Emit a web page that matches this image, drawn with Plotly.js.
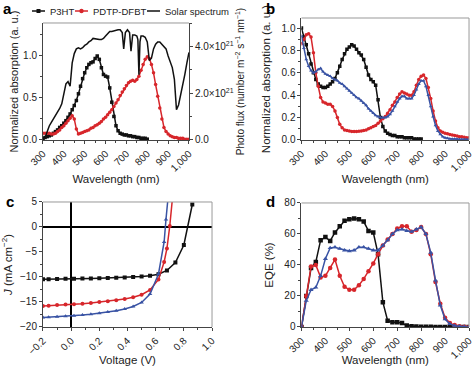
<!DOCTYPE html>
<html><head><meta charset="utf-8">
<script src="https://cdn.plot.ly/plotly-3.0.1.min.js"></script>
<style>html,body{margin:0;padding:0;background:#fff}#chart{width:474px;height:366px}</style>
</head><body><div id="chart"></div>
<script>
// ---------- Panel a ----------
const wlA_P3HT = [300,310,320,330,340,350,360,370,380,390,400,410,420,430,440,450,460,470,480,490,500,510,520,530,540,550,560,570,580,590,600,610,620,630,640,650,660,670,680,690,700,710,720,730,740,750,760,770,780,790,800];
const absA_P3HT = [0.02,0.03,0.04,0.05,0.06,0.08,0.10,0.12,0.15,0.17,0.20,0.23,0.27,0.31,0.36,0.41,0.47,0.55,0.64,0.73,0.80,0.86,0.90,0.92,0.93,0.97,1.00,0.96,0.86,0.78,0.76,0.75,0.62,0.45,0.28,0.17,0.11,0.08,0.07,0.06,0.06,0.05,0.05,0.04,0.04,0.03,0.03,0.02,0.02,0.02,0.01];
const wlA_PDTP = [300,310,320,330,340,350,360,370,380,390,400,410,420,430,440,450,460,470,480,490,500,510,520,530,540,550,560,570,580,590,600,610,620,630,640,650,660,670,680,690,700,710,720,730,740,750,760,770,780,790,800,810,820,830,840,850,860,870,880,890,900,910,920,930,940,950,960,970,980,990,1000];
const absA_PDTP = [0.08,0.08,0.08,0.08,0.07,0.07,0.08,0.10,0.12,0.15,0.17,0.20,0.23,0.26,0.29,0.25,0.13,0.07,0.08,0.09,0.10,0.11,0.12,0.14,0.15,0.17,0.18,0.20,0.22,0.25,0.27,0.30,0.33,0.36,0.40,0.44,0.48,0.53,0.57,0.61,0.65,0.68,0.70,0.71,0.70,0.72,0.76,0.83,0.90,0.96,0.99,0.97,0.90,0.80,0.66,0.52,0.38,0.25,0.15,0.10,0.07,0.05,0.04,0.03,0.03,0.02,0.02,0.02,0.01,0.01,0.01];
const wlSolar = [300,310,320,330,340,350,360,370,380,390,400,410,420,430,440,450,460,470,480,490,500,510,520,530,540,550,560,570,580,590,600,610,620,630,640,650,660,670,680,687,695,705,715,722,730,740,750,755,760,765,770,780,790,800,810,820,830,840,850,860,870,880,890,900,910,920,930,940,950,960,970,980,990,1000];
// photon flux in units of 10^21 m^-2 s^-1 nm^-1
const solarFlux21 = [0.0,0.1,0.35,0.6,0.75,0.9,1.0,1.15,1.35,1.55,1.95,2.4,2.5,2.3,3.3,3.7,3.9,3.95,3.9,3.95,4.05,4.1,4.2,4.25,4.35,4.33,4.3,4.3,4.3,4.35,4.45,4.55,4.65,4.65,4.68,4.7,4.72,4.72,4.6,3.9,4.6,4.72,4.6,3.8,4.5,4.5,4.45,4.3,2.8,4.2,4.45,4.45,4.4,4.2,3.4,3.5,3.9,4.1,4.2,4.2,4.1,4.0,3.9,3.6,3.3,3.1,2.6,1.3,1.5,1.9,2.3,2.8,3.3,3.75];
const fluxTickVals = [0,2,4];
const fluxTickText = ['0.0','2.0×10<sup>21</sup>','4.0×10<sup>21</sup>'];
const legendNames = ['P3HT', 'PDTP-DFBT', 'Solar spectrum'];

// ---------- Panel b ----------
const wlB_P3HT = wlA_P3HT;
const absB_P3HT = [1.0,0.92,0.85,0.77,0.68,0.60,0.54,0.50,0.48,0.47,0.47,0.48,0.50,0.52,0.55,0.60,0.66,0.72,0.77,0.81,0.83,0.85,0.84,0.81,0.78,0.76,0.72,0.65,0.58,0.54,0.52,0.49,0.36,0.20,0.12,0.08,0.06,0.05,0.04,0.04,0.03,0.03,0.03,0.02,0.02,0.02,0.02,0.01,0.01,0.01,0.01];
const wlB = wlA_PDTP;
const absB_PDTP = [0.86,0.90,0.94,0.95,0.92,0.78,0.60,0.48,0.38,0.34,0.33,0.32,0.32,0.30,0.26,0.20,0.14,0.11,0.09,0.085,0.08,0.075,0.075,0.075,0.078,0.08,0.085,0.09,0.10,0.11,0.12,0.13,0.15,0.17,0.19,0.21,0.24,0.27,0.31,0.34,0.38,0.41,0.43,0.42,0.41,0.40,0.40,0.43,0.49,0.54,0.57,0.58,0.55,0.47,0.37,0.26,0.17,0.11,0.08,0.07,0.06,0.055,0.05,0.045,0.04,0.035,0.03,0.03,0.025,0.02,0.02];
const absB_Blend = [0.93,0.82,0.72,0.66,0.62,0.60,0.61,0.63,0.64,0.61,0.59,0.58,0.57,0.55,0.54,0.53,0.51,0.50,0.48,0.46,0.44,0.42,0.40,0.38,0.37,0.35,0.33,0.31,0.28,0.26,0.24,0.22,0.21,0.20,0.20,0.20,0.21,0.23,0.26,0.30,0.34,0.37,0.39,0.39,0.37,0.37,0.37,0.40,0.45,0.50,0.53,0.53,0.48,0.40,0.30,0.21,0.13,0.08,0.05,0.03,0.02,0.015,0.01,0.01,0.01,0.008,0.005,0.005,0.005,0.005,0.005];

// ---------- Panel c ----------
const vBlack = [-0.2,-0.16,-0.1,-0.04,0.02,0.08,0.14,0.2,0.26,0.32,0.38,0.44,0.5,0.56,0.62,0.68,0.74,0.8,0.86];
const jBlack = [-10.45,-10.45,-10.4,-10.35,-10.35,-10.3,-10.3,-10.25,-10.2,-10.15,-10.1,-10.0,-9.9,-9.75,-9.45,-8.7,-7.1,-3.6,4.5];
const vRed = [-0.2,-0.16,-0.1,-0.04,0.02,0.08,0.14,0.2,0.26,0.32,0.38,0.44,0.5,0.56,0.62,0.66,0.68,0.70,0.72];
const jRed = [-15.8,-15.75,-15.6,-15.5,-15.45,-15.35,-15.2,-15.0,-14.85,-14.65,-14.4,-14.05,-13.55,-12.6,-10.5,-7.0,-4.3,0.2,6.0];
const vBlue = [-0.2,-0.16,-0.1,-0.04,0.02,0.08,0.14,0.2,0.26,0.32,0.38,0.44,0.5,0.56,0.62,0.66,0.673,0.69];
const jBlue = [-18.1,-18.05,-17.95,-17.85,-17.75,-17.6,-17.45,-17.25,-17.0,-16.75,-16.4,-15.9,-15.1,-13.4,-9.4,-3.0,1.5,6.5];

// ---------- Panel d ----------
const wlD = [300,320,340,360,380,400,420,440,460,480,500,520,540,560,580,600,620,640,660,680,700,720,740,760,780,800,820,840,860,880,900,920,940,960,980,1000];
const eqeBlack = [0,20,38,42,56,58,55.5,61,65,68.5,69.5,70,69.5,68,62,61,47,16,4,3,3,2.5,1,0.5,0.3,0.2,0.1,0.1,0,0,0,0,0,0,0,0];
const eqeRed = [0,20,39,40,32,33,38,43.5,33,26,24,24,27,31,36,41,47,52.5,56.5,60,63.5,65,65,61.5,62.5,64.5,60,47,29,15,6,2.5,1.2,0.5,0.2,0];
const eqeBlue = [0,17,24,25.5,33,44,51,51.5,50.5,49.5,49,49.5,51.5,51.5,50.5,49.5,49.5,52.5,56,60,62.5,63,62,61.5,63,64.5,60,48,30,14,5,2,0.8,0.3,0.1,0];

const BLACK = '#111111', RED = '#d7262b', BLUE = '#3953a4';
const FONT = 'Liberation Sans, Arial, sans-serif';
const TXT = '#222222';
const W = 474, H = 366;
const px = v => v / W, py = v => 1 - v / H;

function tr(x, y, xa, ya, color, symbol, name, msize) {
  const t = {x: x, y: y, xaxis: xa, yaxis: ya, type: 'scatter', mode: symbol ? 'lines+markers' : 'lines',
    name: name, showlegend: false, line: {color: color, width: 1.5}};
  if (symbol) t.marker = {symbol: symbol, size: msize || 3.5, color: color};
  return t;
}

const traces = [
  tr(wlA_P3HT, absA_P3HT, 'x', 'y', BLACK, 'square', legendNames[0], 3.5),
  tr(wlA_PDTP, absA_PDTP, 'x', 'y', RED, 'circle', legendNames[1], 3.5),
  tr(wlSolar, solarFlux21, 'x', 'y2', BLACK, null, legendNames[2]),
  tr(wlB_P3HT, absB_P3HT, 'x2', 'y3', BLACK, 'square', 'P3HT', 3.5),
  tr(wlB, absB_PDTP, 'x2', 'y3', RED, 'circle', 'PDTP-DFBT', 3.5),
  tr(wlB, absB_Blend, 'x2', 'y3', BLUE, 'triangle-up', 'blend', 3.5),
  tr(vBlack, jBlack, 'x3', 'y4', BLACK, 'square', 'P3HT', 4),
  tr(vRed, jRed, 'x3', 'y4', RED, 'circle', 'PDTP-DFBT', 4),
  tr(vBlue, jBlue, 'x3', 'y4', BLUE, 'triangle-up', 'blend', 4),
  tr(wlD, eqeBlack, 'x4', 'y5', BLACK, 'square', 'P3HT', 4.5),
  tr(wlD, eqeRed, 'x4', 'y5', RED, 'circle', 'PDTP-DFBT', 4.5),
  tr(wlD, eqeBlue, 'x4', 'y5', BLUE, 'triangle-up', 'blend', 4.5)
];

const TICKF = {size: 10, color: TXT, family: FONT};
const TITLEF = {size: 11.5, color: TXT, family: FONT};
function ax(extra) {
  return Object.assign({
    showline: true, linecolor: '#444', linewidth: 1, ticks: 'outside', ticklen: 3, tickcolor: '#444',
    showgrid: false, zeroline: false, tickfont: TICKF, ticklabeloverflow: 'allow'
  }, extra);
}
function wlAxis(domain, anchor) {
  return ax({domain: domain, anchor: anchor, range: [300, 1000], tickvals: [300,400,500,600,700,800,900,1000],
    tickformat: ',', tickangle: -45, minor: {ticks: 'outside', ticklen: 2, dtick: 50, tick0: 300, tickcolor: '#444'},
    title: {text: 'Wavelength (nm)', font: TITLEF, standoff: 2}});
}

const frame = (xr, yr, withRight) => {
  const s = [{type: 'line', xref: xr + ' domain', yref: yr + ' domain', x0: 0, x1: 1, y0: 1, y1: 1, line: {color: '#999', width: 1}}];
  if (withRight) s.push({type: 'line', xref: xr + ' domain', yref: yr + ' domain', x0: 1, x1: 1, y0: 0, y1: 1, line: {color: '#999', width: 1}});
  return s;
};

// legend (top of panel a), positions in pixels
const legendItems = [
  {x0: 32, x1: 45, tx: 48, color: BLACK, sym: 'square'},
  {x0: 75, x1: 88, tx: 91, color: RED, sym: 'circle'},
  {x0: 147, x1: 160, tx: 163, color: BLACK, sym: null}
];
const LY = 11;
const legendShapes = [];
const legendAnn = [];
legendItems.forEach((it, i) => {
  legendShapes.push({type: 'line', xref: 'paper', yref: 'paper', x0: px(it.x0), x1: px(it.x1), y0: py(LY), y1: py(LY), line: {color: it.color, width: 1.5}});
  const cx = (it.x0 + it.x1) / 2;
  if (it.sym === 'square') legendShapes.push({type: 'rect', xref: 'paper', yref: 'paper', x0: px(cx - 2), x1: px(cx + 2), y0: py(LY + 2), y1: py(LY - 2), line: {width: 0}, fillcolor: it.color});
  if (it.sym === 'circle') legendShapes.push({type: 'circle', xref: 'paper', yref: 'paper', x0: px(cx - 2.2), x1: px(cx + 2.2), y0: py(LY + 2.2), y1: py(LY - 2.2), line: {width: 0}, fillcolor: it.color});
  legendAnn.push({text: legendNames[i], xref: 'paper', yref: 'paper', x: px(it.tx), y: py(LY), xanchor: 'left', yanchor: 'middle', showarrow: false, font: {size: 9.5, color: TXT, family: FONT}});
});

const panelLabel = (t, x, y) => ({text: '<b>' + t + '</b>', xref: 'paper', yref: 'paper', x: px(x), y: py(y), xanchor: 'center', yanchor: 'middle', showarrow: false, font: {size: 15, color: '#000', family: FONT}});

const layout = {
  width: W, height: H, margin: {l: 0, r: 0, t: 0, b: 0}, paper_bgcolor: '#fff', plot_bgcolor: '#fff',
  font: {family: FONT, color: TXT, size: 10}, showlegend: false,
  xaxis: wlAxis([0.0907, 0.3987], 'y'),
  yaxis: ax({domain: [0.6175, 0.9372], anchor: 'x', range: [0, 1.393], tickvals: [0, 0.5, 1.0], tickformat: '.1f',
    minor: {ticks: 'outside', ticklen: 2, dtick: 0.25, tickcolor: '#444'},
    title: {text: 'Normalized absorption (a. u.)', font: {size: 11, color: TXT, family: FONT}, standoff: 2}}),
  yaxis2: ax({overlaying: 'y', side: 'right', anchor: 'x', range: [0, 5.01], tickvals: fluxTickVals, ticktext: fluxTickText,
    minor: {ticks: 'outside', ticklen: 2, dtick: 1, tickcolor: '#444'},
    title: {text: 'Photo flux (number m<sup>−2</sup> s<sup>−1</sup> nm<sup>−1</sup>)', font: {size: 10, color: TXT, family: FONT}, standoff: 3}}),
  xaxis2: wlAxis([0.636, 0.9895], 'y3'),
  yaxis3: ax({domain: [0.6175, 0.9508], anchor: 'x2', range: [0, 1.09], dtick: 0.2, tickformat: '.1f',
    minor: {ticks: 'outside', ticklen: 2, dtick: 0.1, tickcolor: '#444'},
    title: {text: 'Normalized absorption (a. u.)', font: TITLEF, standoff: 8}}),
  xaxis3: ax({domain: [0.0907, 0.4473], anchor: 'y4', range: [-0.2, 1.0], dtick: 0.2, tickformat: '.1f', tickangle: -45,
    zeroline: true, zerolinecolor: '#000', zerolinewidth: 1.5,
    minor: {ticks: 'outside', ticklen: 2, dtick: 0.1, tickcolor: '#444'},
    title: {text: 'Voltage (V)', font: TITLEF, standoff: 2}}),
  yaxis4: ax({domain: [0.1066, 0.4481], anchor: 'x3', range: [-20, 5], dtick: 5,
    zeroline: true, zerolinecolor: '#000', zerolinewidth: 1.5,
    minor: {ticks: 'outside', ticklen: 2, dtick: 2.5, tickcolor: '#444'},
    title: {text: '<i>J</i> (mA cm<sup>−2</sup>)', font: TITLEF, standoff: 5}}),
  xaxis4: wlAxis([0.636, 0.9895], 'y5'),
  yaxis5: ax({domain: [0.1066, 0.4454], anchor: 'x4', range: [0, 80], dtick: 20,
    minor: {ticks: 'outside', ticklen: 2, dtick: 10, tickcolor: '#444'},
    title: {text: 'EQE (%)', font: TITLEF, standoff: 8}}),
  shapes: [].concat(frame('x', 'y', false), frame('x2', 'y3', true), frame('x3', 'y4', true), frame('x4', 'y5', true), legendShapes),
  annotations: [panelLabel('a', 8, 8), panelLabel('b', 270, 8), panelLabel('c', 10, 201), panelLabel('d', 270, 201)].concat(legendAnn)
};

Plotly.newPlot('chart', traces, layout, {staticPlot: true, displayModeBar: false});
</script></body></html>
